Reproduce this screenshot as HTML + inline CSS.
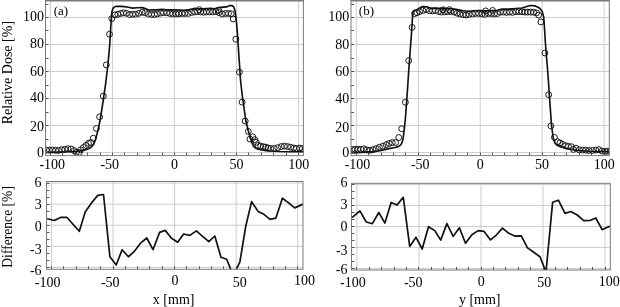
<!DOCTYPE html>
<html><head><meta charset="utf-8"><style>
html,body{margin:0;padding:0;background:#fff;width:620px;height:307px;overflow:hidden}
svg{display:block;will-change:transform}
</style></head><body>
<svg width="620" height="307" viewBox="0 0 620 307" font-family="Liberation Serif" font-size="14" fill="#000">
<defs><clipPath id="c_at"><rect x="45.5" y="0.4" width="257.9" height="155.2"/></clipPath><clipPath id="c_bt"><rect x="351.0" y="0.4" width="258.29999999999995" height="155.2"/></clipPath><clipPath id="c_ab"><rect x="46.5" y="181.5" width="256.5" height="87.80000000000001"/></clipPath><clipPath id="c_bb"><rect x="351.5" y="183.3" width="258.79999999999995" height="86.69999999999999"/></clipPath></defs>
<g>
<line x1="50.40" y1="0.4" x2="50.40" y2="155.6" stroke="#cdcdcd" stroke-width="1"/>
<line x1="112.40" y1="0.4" x2="112.40" y2="155.6" stroke="#cdcdcd" stroke-width="1"/>
<line x1="174.40" y1="0.4" x2="174.40" y2="155.6" stroke="#cdcdcd" stroke-width="1"/>
<line x1="236.40" y1="0.4" x2="236.40" y2="155.6" stroke="#cdcdcd" stroke-width="1"/>
<line x1="298.40" y1="0.4" x2="298.40" y2="155.6" stroke="#cdcdcd" stroke-width="1"/>
<line x1="45.5" y1="152.50" x2="303.4" y2="152.50" stroke="#cdcdcd" stroke-width="1"/>
<line x1="45.5" y1="125.50" x2="303.4" y2="125.50" stroke="#cdcdcd" stroke-width="1"/>
<line x1="45.5" y1="98.50" x2="303.4" y2="98.50" stroke="#cdcdcd" stroke-width="1"/>
<line x1="45.5" y1="71.50" x2="303.4" y2="71.50" stroke="#cdcdcd" stroke-width="1"/>
<line x1="45.5" y1="44.50" x2="303.4" y2="44.50" stroke="#cdcdcd" stroke-width="1"/>
<line x1="45.5" y1="17.50" x2="303.4" y2="17.50" stroke="#cdcdcd" stroke-width="1"/>
<line x1="356.30" y1="0.4" x2="356.30" y2="155.6" stroke="#cdcdcd" stroke-width="1"/>
<line x1="418.25" y1="0.4" x2="418.25" y2="155.6" stroke="#cdcdcd" stroke-width="1"/>
<line x1="480.20" y1="0.4" x2="480.20" y2="155.6" stroke="#cdcdcd" stroke-width="1"/>
<line x1="542.15" y1="0.4" x2="542.15" y2="155.6" stroke="#cdcdcd" stroke-width="1"/>
<line x1="604.10" y1="0.4" x2="604.10" y2="155.6" stroke="#cdcdcd" stroke-width="1"/>
<line x1="351.0" y1="152.50" x2="609.3" y2="152.50" stroke="#cdcdcd" stroke-width="1"/>
<line x1="351.0" y1="125.50" x2="609.3" y2="125.50" stroke="#cdcdcd" stroke-width="1"/>
<line x1="351.0" y1="98.50" x2="609.3" y2="98.50" stroke="#cdcdcd" stroke-width="1"/>
<line x1="351.0" y1="71.50" x2="609.3" y2="71.50" stroke="#cdcdcd" stroke-width="1"/>
<line x1="351.0" y1="44.50" x2="609.3" y2="44.50" stroke="#cdcdcd" stroke-width="1"/>
<line x1="351.0" y1="17.50" x2="609.3" y2="17.50" stroke="#cdcdcd" stroke-width="1"/>
<line x1="51.50" y1="181.5" x2="51.50" y2="269.3" stroke="#cdcdcd" stroke-width="1"/>
<line x1="113.05" y1="181.5" x2="113.05" y2="269.3" stroke="#cdcdcd" stroke-width="1"/>
<line x1="174.60" y1="181.5" x2="174.60" y2="269.3" stroke="#cdcdcd" stroke-width="1"/>
<line x1="236.15" y1="181.5" x2="236.15" y2="269.3" stroke="#cdcdcd" stroke-width="1"/>
<line x1="297.70" y1="181.5" x2="297.70" y2="269.3" stroke="#cdcdcd" stroke-width="1"/>
<line x1="46.5" y1="267.38" x2="303.0" y2="267.38" stroke="#cdcdcd" stroke-width="1"/>
<line x1="46.5" y1="246.29" x2="303.0" y2="246.29" stroke="#cdcdcd" stroke-width="1"/>
<line x1="46.5" y1="225.20" x2="303.0" y2="225.20" stroke="#cdcdcd" stroke-width="1"/>
<line x1="46.5" y1="204.11" x2="303.0" y2="204.11" stroke="#cdcdcd" stroke-width="1"/>
<line x1="46.5" y1="183.02" x2="303.0" y2="183.02" stroke="#cdcdcd" stroke-width="1"/>
<line x1="356.95" y1="183.3" x2="356.95" y2="270.0" stroke="#cdcdcd" stroke-width="1"/>
<line x1="418.98" y1="183.3" x2="418.98" y2="270.0" stroke="#cdcdcd" stroke-width="1"/>
<line x1="481.00" y1="183.3" x2="481.00" y2="270.0" stroke="#cdcdcd" stroke-width="1"/>
<line x1="543.02" y1="183.3" x2="543.02" y2="270.0" stroke="#cdcdcd" stroke-width="1"/>
<line x1="605.05" y1="183.3" x2="605.05" y2="270.0" stroke="#cdcdcd" stroke-width="1"/>
<line x1="351.5" y1="268.50" x2="610.3" y2="268.50" stroke="#cdcdcd" stroke-width="1"/>
<line x1="351.5" y1="247.50" x2="610.3" y2="247.50" stroke="#cdcdcd" stroke-width="1"/>
<line x1="351.5" y1="226.50" x2="610.3" y2="226.50" stroke="#cdcdcd" stroke-width="1"/>
<line x1="351.5" y1="205.50" x2="610.3" y2="205.50" stroke="#cdcdcd" stroke-width="1"/>
<line x1="351.5" y1="184.50" x2="610.3" y2="184.50" stroke="#cdcdcd" stroke-width="1"/>
<g fill="none" stroke="#111" stroke-width="0.95" clip-path="url(#c_at)">
<circle cx="46.30" cy="150.00" r="2.95"/>
<circle cx="49.40" cy="150.00" r="2.95"/>
<circle cx="52.50" cy="150.00" r="2.95"/>
<circle cx="55.60" cy="150.34" r="2.95"/>
<circle cx="58.70" cy="150.47" r="2.95"/>
<circle cx="61.80" cy="149.66" r="2.95"/>
<circle cx="64.90" cy="149.40" r="2.95"/>
<circle cx="68.00" cy="148.72" r="2.95"/>
<circle cx="71.10" cy="148.99" r="2.95"/>
<circle cx="74.20" cy="150.61" r="2.95"/>
<circle cx="76.40" cy="152.37" r="2.95"/>
<circle cx="79.30" cy="152.50" r="2.95"/>
<circle cx="80.60" cy="149.80" r="2.95"/>
<circle cx="83.40" cy="147.50" r="2.95"/>
<circle cx="86.00" cy="145.48" r="2.95"/>
<circle cx="88.50" cy="143.32" r="2.95"/>
<circle cx="90.70" cy="142.51" r="2.95"/>
<circle cx="93.30" cy="138.19" r="2.95"/>
<circle cx="96.40" cy="128.47" r="2.95"/>
<circle cx="99.60" cy="116.86" r="2.95"/>
<circle cx="103.30" cy="96.07" r="2.95"/>
<circle cx="106.30" cy="64.88" r="2.95"/>
<circle cx="109.50" cy="34.24" r="2.95"/>
<circle cx="111.80" cy="18.58" r="2.95"/>
<circle cx="114.90" cy="14.93" r="2.95"/>
<circle cx="117.80" cy="14.26" r="2.95"/>
<circle cx="120.70" cy="13.45" r="2.95"/>
<circle cx="123.50" cy="12.77" r="2.95"/>
<circle cx="126.40" cy="13.31" r="2.95"/>
<circle cx="129.60" cy="14.53" r="2.95"/>
<circle cx="132.60" cy="14.26" r="2.95"/>
<circle cx="135.50" cy="14.26" r="2.95"/>
<circle cx="138.80" cy="13.31" r="2.95"/>
<circle cx="142.10" cy="12.23" r="2.95"/>
<circle cx="145.30" cy="12.77" r="2.95"/>
<circle cx="148.50" cy="14.12" r="2.95"/>
<circle cx="151.50" cy="14.39" r="2.95"/>
<circle cx="154.40" cy="14.53" r="2.95"/>
<circle cx="157.30" cy="13.99" r="2.95"/>
<circle cx="160.60" cy="13.04" r="2.95"/>
<circle cx="163.50" cy="12.64" r="2.95"/>
<circle cx="166.80" cy="12.77" r="2.95"/>
<circle cx="169.80" cy="13.45" r="2.95"/>
<circle cx="172.70" cy="13.99" r="2.95"/>
<circle cx="176.00" cy="13.99" r="2.95"/>
<circle cx="178.90" cy="13.72" r="2.95"/>
<circle cx="182.10" cy="13.45" r="2.95"/>
<circle cx="185.00" cy="13.45" r="2.95"/>
<circle cx="188.30" cy="13.45" r="2.95"/>
<circle cx="191.50" cy="12.50" r="2.95"/>
<circle cx="194.70" cy="11.97" r="2.95"/>
<circle cx="197.60" cy="11.56" r="2.95"/>
<circle cx="200.60" cy="11.83" r="2.95"/>
<circle cx="203.50" cy="12.23" r="2.95"/>
<circle cx="206.40" cy="11.97" r="2.95"/>
<circle cx="209.50" cy="11.97" r="2.95"/>
<circle cx="212.70" cy="11.97" r="2.95"/>
<circle cx="216.00" cy="11.69" r="2.95"/>
<circle cx="219.10" cy="12.64" r="2.95"/>
<circle cx="222.20" cy="13.99" r="2.95"/>
<circle cx="225.50" cy="13.45" r="2.95"/>
<circle cx="228.50" cy="13.45" r="2.95"/>
<circle cx="231.20" cy="13.72" r="2.95"/>
<circle cx="199.30" cy="9.67" r="2.95"/>
<circle cx="218.70" cy="10.34" r="2.95"/>
<circle cx="233.20" cy="18.98" r="2.95"/>
<circle cx="235.80" cy="39.23" r="2.95"/>
<circle cx="239.40" cy="72.17" r="2.95"/>
<circle cx="242.10" cy="102.15" r="2.95"/>
<circle cx="245.20" cy="121.05" r="2.95"/>
<circle cx="248.30" cy="131.44" r="2.95"/>
<circle cx="250.00" cy="139.13" r="2.95"/>
<circle cx="252.70" cy="136.84" r="2.95"/>
<circle cx="254.70" cy="139.68" r="2.95"/>
<circle cx="256.30" cy="142.24" r="2.95"/>
<circle cx="258.00" cy="145.48" r="2.95"/>
<circle cx="260.60" cy="146.16" r="2.95"/>
<circle cx="263.30" cy="146.69" r="2.95"/>
<circle cx="265.60" cy="147.10" r="2.95"/>
<circle cx="267.90" cy="147.91" r="2.95"/>
<circle cx="270.70" cy="148.45" r="2.95"/>
<circle cx="274.20" cy="148.45" r="2.95"/>
<circle cx="277.70" cy="147.64" r="2.95"/>
<circle cx="281.20" cy="146.56" r="2.95"/>
<circle cx="284.40" cy="146.16" r="2.95"/>
<circle cx="287.50" cy="146.56" r="2.95"/>
<circle cx="290.60" cy="147.24" r="2.95"/>
<circle cx="293.70" cy="148.04" r="2.95"/>
<circle cx="296.50" cy="148.45" r="2.95"/>
<circle cx="299.60" cy="148.04" r="2.95"/>
<circle cx="302.40" cy="148.45" r="2.95"/>
<circle cx="305.30" cy="148.45" r="2.95"/>
</g>
<g fill="none" stroke="#111" stroke-width="0.95" clip-path="url(#c_bt)">
<circle cx="349.00" cy="149.94" r="2.95"/>
<circle cx="352.00" cy="149.66" r="2.95"/>
<circle cx="354.80" cy="149.26" r="2.95"/>
<circle cx="357.80" cy="149.26" r="2.95"/>
<circle cx="360.90" cy="149.26" r="2.95"/>
<circle cx="363.70" cy="148.85" r="2.95"/>
<circle cx="366.80" cy="149.94" r="2.95"/>
<circle cx="369.90" cy="150.34" r="2.95"/>
<circle cx="373.00" cy="149.66" r="2.95"/>
<circle cx="376.20" cy="148.59" r="2.95"/>
<circle cx="379.40" cy="147.24" r="2.95"/>
<circle cx="382.80" cy="146.16" r="2.95"/>
<circle cx="386.20" cy="144.67" r="2.95"/>
<circle cx="389.20" cy="143.45" r="2.95"/>
<circle cx="392.30" cy="142.65" r="2.95"/>
<circle cx="395.60" cy="142.51" r="2.95"/>
<circle cx="398.80" cy="137.51" r="2.95"/>
<circle cx="401.70" cy="128.74" r="2.95"/>
<circle cx="405.40" cy="102.28" r="2.95"/>
<circle cx="408.70" cy="60.56" r="2.95"/>
<circle cx="412.10" cy="27.35" r="2.95"/>
<circle cx="414.60" cy="13.58" r="2.95"/>
<circle cx="416.90" cy="12.77" r="2.95"/>
<circle cx="419.60" cy="11.56" r="2.95"/>
<circle cx="422.80" cy="10.48" r="2.95"/>
<circle cx="426.10" cy="9.67" r="2.95"/>
<circle cx="429.40" cy="10.75" r="2.95"/>
<circle cx="432.50" cy="10.88" r="2.95"/>
<circle cx="435.40" cy="10.48" r="2.95"/>
<circle cx="438.50" cy="11.56" r="2.95"/>
<circle cx="441.40" cy="12.10" r="2.95"/>
<circle cx="444.60" cy="11.97" r="2.95"/>
<circle cx="447.60" cy="11.69" r="2.95"/>
<circle cx="450.80" cy="11.42" r="2.95"/>
<circle cx="454.00" cy="11.97" r="2.95"/>
<circle cx="457.00" cy="13.18" r="2.95"/>
<circle cx="460.00" cy="13.99" r="2.95"/>
<circle cx="463.10" cy="14.66" r="2.95"/>
<circle cx="466.00" cy="15.07" r="2.95"/>
<circle cx="469.10" cy="14.39" r="2.95"/>
<circle cx="472.40" cy="13.99" r="2.95"/>
<circle cx="475.60" cy="13.45" r="2.95"/>
<circle cx="478.70" cy="13.45" r="2.95"/>
<circle cx="481.90" cy="13.99" r="2.95"/>
<circle cx="485.00" cy="14.26" r="2.95"/>
<circle cx="488.30" cy="13.45" r="2.95"/>
<circle cx="491.30" cy="13.58" r="2.95"/>
<circle cx="494.40" cy="13.99" r="2.95"/>
<circle cx="497.40" cy="13.58" r="2.95"/>
<circle cx="500.40" cy="12.10" r="2.95"/>
<circle cx="503.50" cy="12.10" r="2.95"/>
<circle cx="506.50" cy="12.37" r="2.95"/>
<circle cx="509.60" cy="12.10" r="2.95"/>
<circle cx="512.60" cy="12.37" r="2.95"/>
<circle cx="515.80" cy="11.69" r="2.95"/>
<circle cx="518.90" cy="11.69" r="2.95"/>
<circle cx="522.00" cy="11.83" r="2.95"/>
<circle cx="525.00" cy="12.10" r="2.95"/>
<circle cx="527.80" cy="12.10" r="2.95"/>
<circle cx="530.70" cy="12.10" r="2.95"/>
<circle cx="533.60" cy="12.23" r="2.95"/>
<circle cx="536.50" cy="12.91" r="2.95"/>
<circle cx="538.60" cy="15.07" r="2.95"/>
<circle cx="442.90" cy="9.80" r="2.95"/>
<circle cx="449.40" cy="9.67" r="2.95"/>
<circle cx="485.60" cy="10.88" r="2.95"/>
<circle cx="492.60" cy="10.48" r="2.95"/>
<circle cx="540.90" cy="21.95" r="2.95"/>
<circle cx="544.90" cy="53.00" r="2.95"/>
<circle cx="548.70" cy="94.72" r="2.95"/>
<circle cx="550.90" cy="125.91" r="2.95"/>
<circle cx="554.40" cy="137.38" r="2.95"/>
<circle cx="557.60" cy="141.70" r="2.95"/>
<circle cx="559.90" cy="142.91" r="2.95"/>
<circle cx="562.70" cy="144.40" r="2.95"/>
<circle cx="565.60" cy="145.75" r="2.95"/>
<circle cx="568.50" cy="146.43" r="2.95"/>
<circle cx="571.40" cy="146.69" r="2.95"/>
<circle cx="573.40" cy="149.40" r="2.95"/>
<circle cx="576.00" cy="148.18" r="2.95"/>
<circle cx="579.30" cy="149.80" r="2.95"/>
<circle cx="582.60" cy="150.07" r="2.95"/>
<circle cx="585.70" cy="150.07" r="2.95"/>
<circle cx="588.90" cy="150.47" r="2.95"/>
<circle cx="592.40" cy="150.47" r="2.95"/>
<circle cx="595.90" cy="150.07" r="2.95"/>
<circle cx="599.00" cy="149.66" r="2.95"/>
<circle cx="602.10" cy="151.15" r="2.95"/>
<circle cx="605.20" cy="151.42" r="2.95"/>
<circle cx="607.80" cy="151.15" r="2.95"/>
<circle cx="610.80" cy="151.15" r="2.95"/>
</g>
<polyline points="44.00,152.50 54.00,152.30 63.50,152.00 70.00,151.80 76.50,151.40 82.50,150.60 87.30,149.30 90.90,147.40 93.60,144.40 95.40,139.80 97.00,134.00 98.70,127.00 100.30,119.00 103.00,102.00 105.60,84.00 108.00,64.00 109.80,44.00 110.60,30.00 111.30,18.00 112.00,11.50 113.00,8.40 114.50,6.80 116.60,6.20 121.00,6.40 124.30,6.60 128.40,7.30 132.40,8.10 137.30,7.70 142.20,7.60 145.50,8.60 148.50,10.00 152.60,9.70 156.70,9.90 161.40,9.40 167.30,9.90 174.80,9.90 183.60,10.20 189.40,9.60 195.30,8.40 197.50,8.70 202.80,8.80 210.40,8.20 214.50,8.70 218.60,7.60 223.30,7.10 226.50,6.90 229.60,5.60 232.00,5.50 233.70,6.80 234.90,10.40 235.80,16.00 236.50,22.00 237.40,33.00 238.30,47.00 239.40,63.00 240.50,80.00 242.30,96.00 243.60,105.00 245.70,120.00 248.30,131.00 249.80,136.00 251.60,142.00 253.60,146.30 256.00,148.40 259.50,149.50 266.00,150.60 270.00,151.00 280.00,151.50 292.00,151.70 305.00,151.80" fill="none" stroke="#111" stroke-width="1.65" stroke-linejoin="round" clip-path="url(#c_at)"/>
<polyline points="349.00,153.10 357.80,152.60 365.60,152.10 373.40,151.60 380.00,150.80 389.00,148.60 395.00,147.50 398.20,146.60 400.30,145.30 401.60,143.60 402.80,140.00 403.60,135.00 404.30,129.00 405.30,119.50 406.60,102.00 407.80,85.00 408.90,68.00 409.90,55.00 411.00,40.00 411.90,27.40 412.50,17.00 413.10,11.80 414.30,10.40 416.50,10.00 418.60,8.60 421.00,7.10 423.20,6.50 426.60,6.80 431.30,8.20 436.60,8.20 441.00,8.30 445.90,8.40 451.70,8.70 457.60,9.60 463.40,10.80 469.30,11.20 473.90,10.80 479.70,10.50 485.60,10.80 491.40,10.50 497.30,10.20 502.50,9.10 509.00,9.10 515.60,8.50 522.10,8.00 526.00,6.80 530.20,5.50 535.30,5.90 539.50,8.10 542.00,11.00 543.70,16.90 544.60,30.00 545.50,44.30 546.60,58.00 547.60,70.00 548.50,82.00 549.20,92.90 550.40,110.00 551.50,124.90 552.20,130.50 553.30,138.30 555.00,143.20 557.30,145.30 559.70,146.40 566.80,148.70 578.00,150.50 590.00,151.20 612.00,151.60" fill="none" stroke="#111" stroke-width="1.65" stroke-linejoin="round" clip-path="url(#c_bt)"/>
<polyline points="46.70,218.50 54.20,220.50 61.00,217.30 66.80,217.30 73.20,224.50 79.30,231.30 85.20,211.90 91.50,202.90 97.80,195.40 103.50,194.50 109.90,256.80 116.20,265.00 122.10,249.70 128.40,256.80 134.60,251.10 141.10,242.60 146.80,238.00 153.00,249.70 159.60,232.40 165.20,230.40 171.50,238.30 177.70,242.20 183.60,234.00 189.80,235.40 196.40,230.90 202.60,236.30 208.80,241.70 214.80,236.00 221.00,257.30 226.70,259.20 233.30,276.00 239.90,261.80 245.80,226.00 251.60,201.70 258.10,211.40 263.90,214.30 270.10,219.30 275.90,218.10 282.40,198.20 288.30,202.60 294.70,207.90 301.40,204.90 305.00,203.00" fill="none" stroke="#111" stroke-width="1.7" stroke-linejoin="round" clip-path="url(#c_ab)"/>
<polyline points="351.00,217.50 353.20,216.70 359.90,210.80 366.30,222.00 372.40,223.70 378.80,212.50 384.90,223.10 391.10,202.40 397.00,205.10 403.30,197.30 409.70,246.40 416.00,237.30 422.20,249.00 428.50,226.70 434.80,230.60 440.70,240.10 446.90,223.60 453.20,236.30 459.40,227.80 465.50,243.30 471.90,234.80 478.20,230.60 484.10,231.40 490.50,239.90 496.60,234.80 502.50,228.10 508.80,233.30 515.30,236.20 521.30,235.90 527.50,247.90 533.80,252.30 540.00,256.80 546.00,272.00 552.60,202.30 558.40,200.20 565.00,213.40 570.80,211.50 577.30,215.00 583.70,220.70 590.00,220.50 595.80,218.00 602.10,229.70 608.60,226.80 612.00,225.50" fill="none" stroke="#111" stroke-width="1.7" stroke-linejoin="round" clip-path="url(#c_bb)"/>
<line x1="50.50" y1="155.6" x2="50.50" y2="152.6" stroke="#444" stroke-width="0.9"/>
<line x1="62.50" y1="155.6" x2="62.50" y2="152.6" stroke="#444" stroke-width="0.9"/>
<line x1="75.50" y1="155.6" x2="75.50" y2="152.6" stroke="#444" stroke-width="0.9"/>
<line x1="87.50" y1="155.6" x2="87.50" y2="152.6" stroke="#444" stroke-width="0.9"/>
<line x1="100.50" y1="155.6" x2="100.50" y2="152.6" stroke="#444" stroke-width="0.9"/>
<line x1="112.50" y1="155.6" x2="112.50" y2="152.6" stroke="#444" stroke-width="0.9"/>
<line x1="124.50" y1="155.6" x2="124.50" y2="152.6" stroke="#444" stroke-width="0.9"/>
<line x1="137.50" y1="155.6" x2="137.50" y2="152.6" stroke="#444" stroke-width="0.9"/>
<line x1="149.50" y1="155.6" x2="149.50" y2="152.6" stroke="#444" stroke-width="0.9"/>
<line x1="162.50" y1="155.6" x2="162.50" y2="152.6" stroke="#444" stroke-width="0.9"/>
<line x1="174.50" y1="155.6" x2="174.50" y2="152.6" stroke="#444" stroke-width="0.9"/>
<line x1="186.50" y1="155.6" x2="186.50" y2="152.6" stroke="#444" stroke-width="0.9"/>
<line x1="199.50" y1="155.6" x2="199.50" y2="152.6" stroke="#444" stroke-width="0.9"/>
<line x1="211.50" y1="155.6" x2="211.50" y2="152.6" stroke="#444" stroke-width="0.9"/>
<line x1="224.50" y1="155.6" x2="224.50" y2="152.6" stroke="#444" stroke-width="0.9"/>
<line x1="236.50" y1="155.6" x2="236.50" y2="152.6" stroke="#444" stroke-width="0.9"/>
<line x1="248.50" y1="155.6" x2="248.50" y2="152.6" stroke="#444" stroke-width="0.9"/>
<line x1="261.50" y1="155.6" x2="261.50" y2="152.6" stroke="#444" stroke-width="0.9"/>
<line x1="273.50" y1="155.6" x2="273.50" y2="152.6" stroke="#444" stroke-width="0.9"/>
<line x1="286.50" y1="155.6" x2="286.50" y2="152.6" stroke="#444" stroke-width="0.9"/>
<line x1="298.50" y1="155.6" x2="298.50" y2="152.6" stroke="#444" stroke-width="0.9"/>
<line x1="45.5" y1="152.50" x2="48.5" y2="152.50" stroke="#444" stroke-width="0.9"/>
<line x1="45.5" y1="139.50" x2="48.5" y2="139.50" stroke="#444" stroke-width="0.9"/>
<line x1="45.5" y1="125.50" x2="48.5" y2="125.50" stroke="#444" stroke-width="0.9"/>
<line x1="45.5" y1="112.50" x2="48.5" y2="112.50" stroke="#444" stroke-width="0.9"/>
<line x1="45.5" y1="98.50" x2="48.5" y2="98.50" stroke="#444" stroke-width="0.9"/>
<line x1="45.5" y1="85.50" x2="48.5" y2="85.50" stroke="#444" stroke-width="0.9"/>
<line x1="45.5" y1="71.50" x2="48.5" y2="71.50" stroke="#444" stroke-width="0.9"/>
<line x1="45.5" y1="58.50" x2="48.5" y2="58.50" stroke="#444" stroke-width="0.9"/>
<line x1="45.5" y1="44.50" x2="48.5" y2="44.50" stroke="#444" stroke-width="0.9"/>
<line x1="45.5" y1="30.50" x2="48.5" y2="30.50" stroke="#444" stroke-width="0.9"/>
<line x1="45.5" y1="17.50" x2="48.5" y2="17.50" stroke="#444" stroke-width="0.9"/>
<line x1="45.5" y1="4.50" x2="48.5" y2="4.50" stroke="#444" stroke-width="0.9"/>
<rect x="45.5" y="0.4" width="257.90" height="155.20" fill="none" stroke="#7a7a7a" stroke-width="1"/>
<line x1="356.50" y1="155.6" x2="356.50" y2="152.6" stroke="#444" stroke-width="0.9"/>
<line x1="368.50" y1="155.6" x2="368.50" y2="152.6" stroke="#444" stroke-width="0.9"/>
<line x1="381.50" y1="155.6" x2="381.50" y2="152.6" stroke="#444" stroke-width="0.9"/>
<line x1="393.50" y1="155.6" x2="393.50" y2="152.6" stroke="#444" stroke-width="0.9"/>
<line x1="405.50" y1="155.6" x2="405.50" y2="152.6" stroke="#444" stroke-width="0.9"/>
<line x1="418.50" y1="155.6" x2="418.50" y2="152.6" stroke="#444" stroke-width="0.9"/>
<line x1="430.50" y1="155.6" x2="430.50" y2="152.6" stroke="#444" stroke-width="0.9"/>
<line x1="443.50" y1="155.6" x2="443.50" y2="152.6" stroke="#444" stroke-width="0.9"/>
<line x1="455.50" y1="155.6" x2="455.50" y2="152.6" stroke="#444" stroke-width="0.9"/>
<line x1="467.50" y1="155.6" x2="467.50" y2="152.6" stroke="#444" stroke-width="0.9"/>
<line x1="480.50" y1="155.6" x2="480.50" y2="152.6" stroke="#444" stroke-width="0.9"/>
<line x1="492.50" y1="155.6" x2="492.50" y2="152.6" stroke="#444" stroke-width="0.9"/>
<line x1="504.50" y1="155.6" x2="504.50" y2="152.6" stroke="#444" stroke-width="0.9"/>
<line x1="517.50" y1="155.6" x2="517.50" y2="152.6" stroke="#444" stroke-width="0.9"/>
<line x1="529.50" y1="155.6" x2="529.50" y2="152.6" stroke="#444" stroke-width="0.9"/>
<line x1="542.50" y1="155.6" x2="542.50" y2="152.6" stroke="#444" stroke-width="0.9"/>
<line x1="554.50" y1="155.6" x2="554.50" y2="152.6" stroke="#444" stroke-width="0.9"/>
<line x1="566.50" y1="155.6" x2="566.50" y2="152.6" stroke="#444" stroke-width="0.9"/>
<line x1="579.50" y1="155.6" x2="579.50" y2="152.6" stroke="#444" stroke-width="0.9"/>
<line x1="591.50" y1="155.6" x2="591.50" y2="152.6" stroke="#444" stroke-width="0.9"/>
<line x1="604.50" y1="155.6" x2="604.50" y2="152.6" stroke="#444" stroke-width="0.9"/>
<line x1="351.0" y1="152.50" x2="354.0" y2="152.50" stroke="#444" stroke-width="0.9"/>
<line x1="351.0" y1="139.50" x2="354.0" y2="139.50" stroke="#444" stroke-width="0.9"/>
<line x1="351.0" y1="125.50" x2="354.0" y2="125.50" stroke="#444" stroke-width="0.9"/>
<line x1="351.0" y1="112.50" x2="354.0" y2="112.50" stroke="#444" stroke-width="0.9"/>
<line x1="351.0" y1="98.50" x2="354.0" y2="98.50" stroke="#444" stroke-width="0.9"/>
<line x1="351.0" y1="85.50" x2="354.0" y2="85.50" stroke="#444" stroke-width="0.9"/>
<line x1="351.0" y1="71.50" x2="354.0" y2="71.50" stroke="#444" stroke-width="0.9"/>
<line x1="351.0" y1="58.50" x2="354.0" y2="58.50" stroke="#444" stroke-width="0.9"/>
<line x1="351.0" y1="44.50" x2="354.0" y2="44.50" stroke="#444" stroke-width="0.9"/>
<line x1="351.0" y1="30.50" x2="354.0" y2="30.50" stroke="#444" stroke-width="0.9"/>
<line x1="351.0" y1="17.50" x2="354.0" y2="17.50" stroke="#444" stroke-width="0.9"/>
<line x1="351.0" y1="4.50" x2="354.0" y2="4.50" stroke="#444" stroke-width="0.9"/>
<rect x="351.0" y="0.4" width="258.30" height="155.20" fill="none" stroke="#7a7a7a" stroke-width="1"/>
<line x1="51.50" y1="269.3" x2="51.50" y2="266.3" stroke="#444" stroke-width="0.9"/>
<line x1="63.50" y1="269.3" x2="63.50" y2="266.3" stroke="#444" stroke-width="0.9"/>
<line x1="76.50" y1="269.3" x2="76.50" y2="266.3" stroke="#444" stroke-width="0.9"/>
<line x1="88.50" y1="269.3" x2="88.50" y2="266.3" stroke="#444" stroke-width="0.9"/>
<line x1="100.50" y1="269.3" x2="100.50" y2="266.3" stroke="#444" stroke-width="0.9"/>
<line x1="113.50" y1="269.3" x2="113.50" y2="266.3" stroke="#444" stroke-width="0.9"/>
<line x1="125.50" y1="269.3" x2="125.50" y2="266.3" stroke="#444" stroke-width="0.9"/>
<line x1="137.50" y1="269.3" x2="137.50" y2="266.3" stroke="#444" stroke-width="0.9"/>
<line x1="149.50" y1="269.3" x2="149.50" y2="266.3" stroke="#444" stroke-width="0.9"/>
<line x1="162.50" y1="269.3" x2="162.50" y2="266.3" stroke="#444" stroke-width="0.9"/>
<line x1="174.50" y1="269.3" x2="174.50" y2="266.3" stroke="#444" stroke-width="0.9"/>
<line x1="186.50" y1="269.3" x2="186.50" y2="266.3" stroke="#444" stroke-width="0.9"/>
<line x1="199.50" y1="269.3" x2="199.50" y2="266.3" stroke="#444" stroke-width="0.9"/>
<line x1="211.50" y1="269.3" x2="211.50" y2="266.3" stroke="#444" stroke-width="0.9"/>
<line x1="223.50" y1="269.3" x2="223.50" y2="266.3" stroke="#444" stroke-width="0.9"/>
<line x1="236.50" y1="269.3" x2="236.50" y2="266.3" stroke="#444" stroke-width="0.9"/>
<line x1="248.50" y1="269.3" x2="248.50" y2="266.3" stroke="#444" stroke-width="0.9"/>
<line x1="260.50" y1="269.3" x2="260.50" y2="266.3" stroke="#444" stroke-width="0.9"/>
<line x1="273.50" y1="269.3" x2="273.50" y2="266.3" stroke="#444" stroke-width="0.9"/>
<line x1="285.50" y1="269.3" x2="285.50" y2="266.3" stroke="#444" stroke-width="0.9"/>
<line x1="297.50" y1="269.3" x2="297.50" y2="266.3" stroke="#444" stroke-width="0.9"/>
<line x1="46.5" y1="267.50" x2="49.5" y2="267.50" stroke="#444" stroke-width="0.9"/>
<line x1="46.5" y1="260.50" x2="49.5" y2="260.50" stroke="#444" stroke-width="0.9"/>
<line x1="46.5" y1="253.50" x2="49.5" y2="253.50" stroke="#444" stroke-width="0.9"/>
<line x1="46.5" y1="246.50" x2="49.5" y2="246.50" stroke="#444" stroke-width="0.9"/>
<line x1="46.5" y1="239.50" x2="49.5" y2="239.50" stroke="#444" stroke-width="0.9"/>
<line x1="46.5" y1="232.50" x2="49.5" y2="232.50" stroke="#444" stroke-width="0.9"/>
<line x1="46.5" y1="225.50" x2="49.5" y2="225.50" stroke="#444" stroke-width="0.9"/>
<line x1="46.5" y1="218.50" x2="49.5" y2="218.50" stroke="#444" stroke-width="0.9"/>
<line x1="46.5" y1="211.50" x2="49.5" y2="211.50" stroke="#444" stroke-width="0.9"/>
<line x1="46.5" y1="204.50" x2="49.5" y2="204.50" stroke="#444" stroke-width="0.9"/>
<line x1="46.5" y1="197.50" x2="49.5" y2="197.50" stroke="#444" stroke-width="0.9"/>
<line x1="46.5" y1="190.50" x2="49.5" y2="190.50" stroke="#444" stroke-width="0.9"/>
<line x1="46.5" y1="183.50" x2="49.5" y2="183.50" stroke="#444" stroke-width="0.9"/>
<rect x="46.5" y="181.5" width="256.50" height="87.80" fill="none" stroke="#7a7a7a" stroke-width="1"/>
<line x1="356.50" y1="270.0" x2="356.50" y2="267.0" stroke="#444" stroke-width="0.9"/>
<line x1="369.50" y1="270.0" x2="369.50" y2="267.0" stroke="#444" stroke-width="0.9"/>
<line x1="381.50" y1="270.0" x2="381.50" y2="267.0" stroke="#444" stroke-width="0.9"/>
<line x1="394.50" y1="270.0" x2="394.50" y2="267.0" stroke="#444" stroke-width="0.9"/>
<line x1="406.50" y1="270.0" x2="406.50" y2="267.0" stroke="#444" stroke-width="0.9"/>
<line x1="418.50" y1="270.0" x2="418.50" y2="267.0" stroke="#444" stroke-width="0.9"/>
<line x1="431.50" y1="270.0" x2="431.50" y2="267.0" stroke="#444" stroke-width="0.9"/>
<line x1="443.50" y1="270.0" x2="443.50" y2="267.0" stroke="#444" stroke-width="0.9"/>
<line x1="456.50" y1="270.0" x2="456.50" y2="267.0" stroke="#444" stroke-width="0.9"/>
<line x1="468.50" y1="270.0" x2="468.50" y2="267.0" stroke="#444" stroke-width="0.9"/>
<line x1="481.50" y1="270.0" x2="481.50" y2="267.0" stroke="#444" stroke-width="0.9"/>
<line x1="493.50" y1="270.0" x2="493.50" y2="267.0" stroke="#444" stroke-width="0.9"/>
<line x1="505.50" y1="270.0" x2="505.50" y2="267.0" stroke="#444" stroke-width="0.9"/>
<line x1="518.50" y1="270.0" x2="518.50" y2="267.0" stroke="#444" stroke-width="0.9"/>
<line x1="530.50" y1="270.0" x2="530.50" y2="267.0" stroke="#444" stroke-width="0.9"/>
<line x1="543.50" y1="270.0" x2="543.50" y2="267.0" stroke="#444" stroke-width="0.9"/>
<line x1="555.50" y1="270.0" x2="555.50" y2="267.0" stroke="#444" stroke-width="0.9"/>
<line x1="567.50" y1="270.0" x2="567.50" y2="267.0" stroke="#444" stroke-width="0.9"/>
<line x1="580.50" y1="270.0" x2="580.50" y2="267.0" stroke="#444" stroke-width="0.9"/>
<line x1="592.50" y1="270.0" x2="592.50" y2="267.0" stroke="#444" stroke-width="0.9"/>
<line x1="605.50" y1="270.0" x2="605.50" y2="267.0" stroke="#444" stroke-width="0.9"/>
<line x1="351.5" y1="268.50" x2="354.5" y2="268.50" stroke="#444" stroke-width="0.9"/>
<line x1="351.5" y1="261.50" x2="354.5" y2="261.50" stroke="#444" stroke-width="0.9"/>
<line x1="351.5" y1="254.50" x2="354.5" y2="254.50" stroke="#444" stroke-width="0.9"/>
<line x1="351.5" y1="247.50" x2="354.5" y2="247.50" stroke="#444" stroke-width="0.9"/>
<line x1="351.5" y1="240.50" x2="354.5" y2="240.50" stroke="#444" stroke-width="0.9"/>
<line x1="351.5" y1="233.50" x2="354.5" y2="233.50" stroke="#444" stroke-width="0.9"/>
<line x1="351.5" y1="226.50" x2="354.5" y2="226.50" stroke="#444" stroke-width="0.9"/>
<line x1="351.5" y1="219.50" x2="354.5" y2="219.50" stroke="#444" stroke-width="0.9"/>
<line x1="351.5" y1="212.50" x2="354.5" y2="212.50" stroke="#444" stroke-width="0.9"/>
<line x1="351.5" y1="205.50" x2="354.5" y2="205.50" stroke="#444" stroke-width="0.9"/>
<line x1="351.5" y1="198.50" x2="354.5" y2="198.50" stroke="#444" stroke-width="0.9"/>
<line x1="351.5" y1="191.50" x2="354.5" y2="191.50" stroke="#444" stroke-width="0.9"/>
<line x1="351.5" y1="184.50" x2="354.5" y2="184.50" stroke="#444" stroke-width="0.9"/>
<rect x="351.5" y="183.3" width="258.80" height="86.70" fill="none" stroke="#7a7a7a" stroke-width="1"/>
<rect x="45.0" y="0" width="258.9" height="1.5" fill="#7a7a7a"/>
<rect x="350.5" y="0" width="259.29999999999995" height="1.5" fill="#7a7a7a"/>
<text x="22.93" y="21.34">100</text>
<text x="29.93" y="48.19">80</text>
<text x="29.93" y="75.59">60</text>
<text x="29.93" y="102.39">40</text>
<text x="29.93" y="131.39">20</text>
<text x="36.93" y="156.79">0</text>
<text x="328.23" y="20.99">100</text>
<text x="335.23" y="48.99">80</text>
<text x="335.23" y="76.19">60</text>
<text x="335.23" y="103.09">40</text>
<text x="335.23" y="131.69">20</text>
<text x="342.23" y="157.39">0</text>
<text x="34.62" y="187.07">6</text>
<text x="34.75" y="209.47">3</text>
<text x="34.73" y="230.79">0</text>
<text x="30.08" y="254.47">-3</text>
<text x="29.95" y="274.57">-6</text>
<text x="340.42" y="187.17">6</text>
<text x="340.55" y="209.37">3</text>
<text x="340.53" y="230.69">0</text>
<text x="335.88" y="254.77">-3</text>
<text x="335.75" y="274.47">-6</text>
<text x="39.38" y="168.89">-100</text>
<text x="100.38" y="168.89">-50</text>
<text x="171.10" y="168.89">0</text>
<text x="229.56" y="168.89">50</text>
<text x="288.15" y="168.89">100</text>
<text x="344.68" y="168.89">-100</text>
<text x="410.88" y="168.89">-50</text>
<text x="476.80" y="168.89">0</text>
<text x="535.06" y="168.89">50</text>
<text x="593.65" y="168.89">100</text>
<text x="34.78" y="286.79">-100</text>
<text x="100.88" y="286.59">-50</text>
<text x="171.50" y="285.29">0</text>
<text x="232.86" y="287.19">50</text>
<text x="293.90" y="285.19">100</text>
<text x="340.03" y="286.79">-100</text>
<text x="403.88" y="286.99">-50</text>
<text x="477.85" y="286.34">0</text>
<text x="537.36" y="286.59">50</text>
<text x="598.75" y="285.99">100</text>
<text x="53.64" y="15.23" font-size="13">(a)</text>
<text x="358.87" y="15.33" font-size="13">(b)</text>
<text x="152.86" y="303.92">x [mm]</text>
<text x="458.88" y="304.12">y [mm]</text>
<text transform="translate(12.07,124.34) rotate(-90)">Relative Dose [%]</text>
<text transform="translate(11.81,267.70) rotate(-90)" font-size="13.6">Difference [%]</text>
</g>
</svg>
</body></html>
